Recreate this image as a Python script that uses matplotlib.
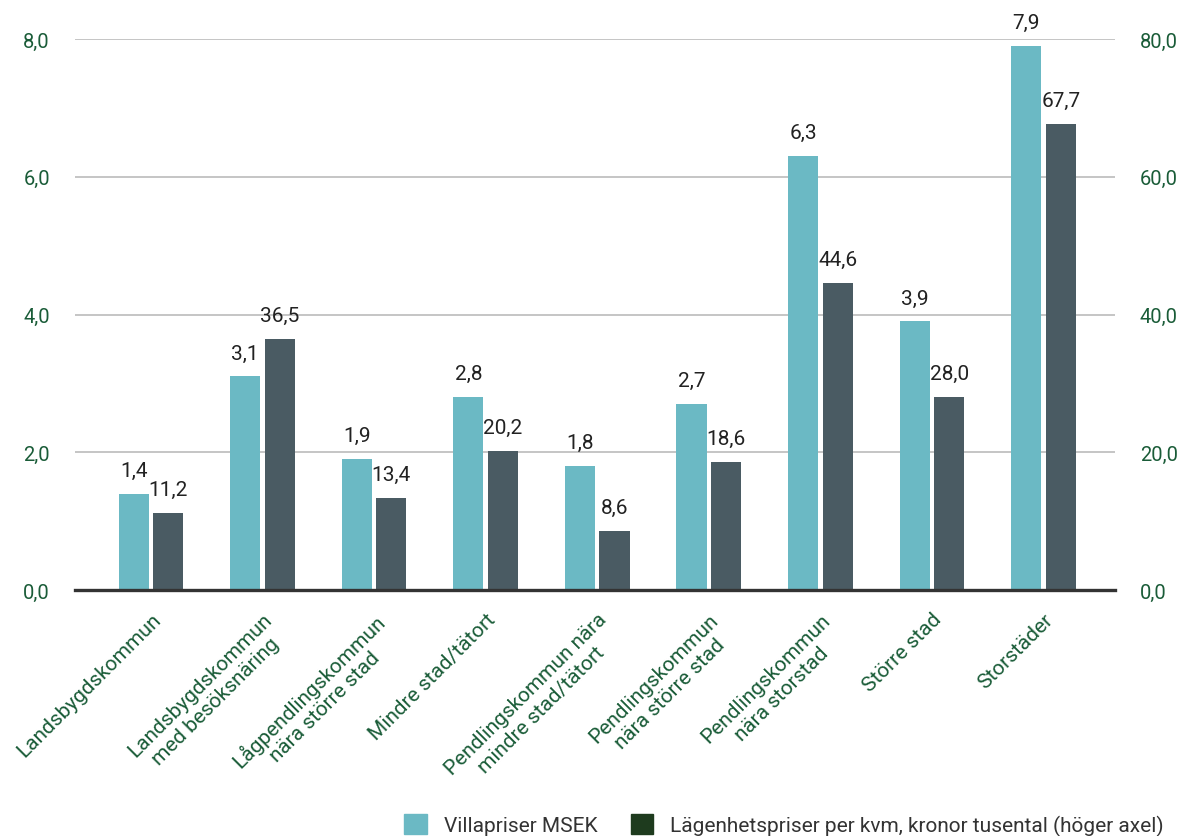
import matplotlib.pyplot as plt
from matplotlib.patches import Patch
import numpy as np

plt.rcParams['font.family'] = ['Roboto', 'DejaVu Sans']

categories = [
    "Landsbygdskommun",
    "Landsbygdskommun\nmed besöksnäring",
    "Lågpendlingskommun\nnära större stad",
    "Mindre stad/tätort",
    "Pendlingskommun nära\nmindre stad/tätort",
    "Pendlingskommun\nnära större stad",
    "Pendlingskommun\nnära storstad",
    "Större stad",
    "Storstäder",
]
villa = [1.4, 3.1, 1.9, 2.8, 1.8, 2.7, 6.3, 3.9, 7.9]
lagenhet = [11.2, 36.5, 13.4, 20.2, 8.6, 18.6, 44.6, 28.0, 67.7]
left_ticks = [0, 2, 4, 6, 8]
right_ticks = [0, 20, 40, 60, 80]

teal = '#6bb9c4'
slate = '#4a5b63'
legend_dark = '#1e3b1e'
green = '#1a5c38'

fig = plt.figure(figsize=(11.79, 8.37), dpi=100)
ax = fig.add_axes([0.0636, 0.2939, 0.8821, 0.6583])
ax2 = ax.twinx()

x = np.arange(len(categories))
w = 0.27
off = 0.155

b1 = ax.bar(x - off, villa, width=w, color=teal, zorder=3)
b2 = ax2.bar(x + off, lagenhet, width=w, color=slate, zorder=3)

for rect, v in zip(b1, villa):
    ax.text(rect.get_x() + rect.get_width() / 2, v + 0.2, f"{v:.1f}".replace('.', ','),
            ha='center', va='bottom', fontsize=15, color='#222222', clip_on=False)
for rect, v in zip(b2, lagenhet):
    ax2.text(rect.get_x() + rect.get_width() / 2, v + 2.0, f"{v:.1f}".replace('.', ','),
             ha='center', va='bottom', fontsize=15, color='#222222', clip_on=False)

ax.set_xlim(-0.68, 8.64)
ax.set_ylim(0, 8)
ax2.set_ylim(0, 80)
ax.set_yticks(left_ticks)
ax.set_yticklabels([f"{t:.1f}".replace('.', ',') for t in left_ticks])
ax2.set_yticks(right_ticks)
ax2.set_yticklabels([f"{t:.1f}".replace('.', ',') for t in right_ticks])

ax.yaxis.grid(True, color='#bbbbbb', linewidth=1.2, zorder=0)
ax.set_axisbelow(True)

for a in (ax, ax2):
    for s in ('top', 'left', 'right', 'bottom'):
        a.spines[s].set_visible(False)
    a.tick_params(axis='y', length=0, labelsize=14.5, labelcolor=green, pad=18)
ax2.axhline(0, color='#333333', linewidth=2.4, zorder=5, clip_on=False)

ax.set_xticks(x)
ax.set_xticklabels(categories, rotation=45, ha='right', va='top',
                   rotation_mode='anchor', multialignment='center',
                   fontsize=15, color=green, linespacing=1.2)
ax.tick_params(axis='x', length=0, pad=14)

handles = [Patch(color=teal, label='Villapriser MSEK'),
           Patch(color=legend_dark, label='Lägenhetspriser per kvm, kronor tusental (höger axel)')]
fig.legend(handles=handles, loc='lower right', bbox_to_anchor=(1.003, -0.022), ncol=2,
           frameon=False, fontsize=15, handlelength=1.1, handleheight=1.1,
           columnspacing=1.6, handletextpad=0.8, labelcolor='#333333')

fig.savefig('out.png', dpi=100)
